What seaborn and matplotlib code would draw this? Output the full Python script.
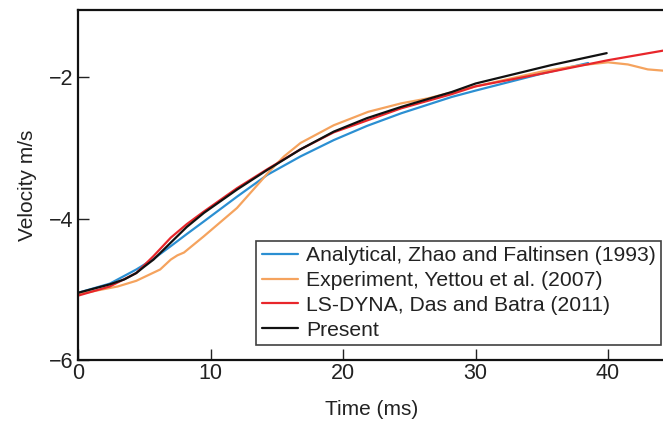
import matplotlib
matplotlib.use("Agg")
import matplotlib.pyplot as plt
import seaborn as sns
import pandas as pd

# ---- data ----
t_analytical = [0, 2.4, 4.4, 5.7, 7, 8.2, 9.5, 12, 14.3, 16.8, 19.3, 21.8, 24.4, 28.2, 30, 35, 38.5]
v_analytical = [-5.05, -4.92, -4.72, -4.57, -4.39, -4.22, -4.04, -3.69, -3.38, -3.12, -2.89, -2.69, -2.51, -2.28, -2.19, -1.95, -1.80]

t_experiment = [0, 1.9, 3, 4.4, 6.2, 7, 7.5, 8, 9.5, 12, 13.8, 14.3, 15.55, 16.8, 19.3, 21.9, 24.4, 26.4,
                30, 35, 38, 40, 41.5, 43, 44.3]
v_experiment = [-5.07, -5.00, -4.96, -4.88, -4.72, -4.58, -4.52, -4.48, -4.25, -3.85, -3.47, -3.36, -3.12, -2.93,
                -2.68, -2.49, -2.37, -2.30, -2.13, -1.92, -1.83, -1.79, -1.82, -1.89, -1.91]

t_lsdyna = [0, 2.4, 4.4, 5.7, 7, 8.2, 9.5, 12, 14.3, 16.8, 19.3, 24.4, 28.2, 30, 35, 40, 44.3]
v_lsdyna = [-5.09, -4.96, -4.77, -4.53, -4.27, -4.08, -3.90, -3.57, -3.30, -3.02, -2.78, -2.44, -2.24, -2.13, -1.95, -1.76, -1.62]

t_present = [0, 2.4, 3.5, 4.4, 5.0, 5.7, 7, 8.2, 9.5, 12, 14.3, 16.8, 19.3, 21.8, 24.4, 28.2, 30, 35.7, 39.9]
v_present = [-5.05, -4.93, -4.86, -4.77, -4.68, -4.58, -4.34, -4.12, -3.92, -3.59, -3.31, -3.02, -2.77, -2.58, -2.42, -2.21, -2.09, -1.83, -1.66]

labels = ["Analytical, Zhao and Faltinsen (1993)",
          "Experiment, Yettou et al. (2007)",
          "LS-DYNA, Das and Batra (2011)",
          "Present"]
colors = ["#2b8fd2", "#f5a35e", "#e8262b", "#111111"]

sns.set_style("ticks")
plt.rcParams['font.family'] = ["Liberation Sans", 'DejaVu Sans']

fig = plt.figure(figsize=(6.63, 4.22), dpi=100)
ax = fig.add_axes([78/663, 1 - 360/422, 1 - 78/663 + 0.003, 350/422])

series = [(t_analytical, v_analytical), (t_experiment, v_experiment),
          (t_lsdyna, v_lsdyna), (t_present, v_present)]
for (t, v), lab, c in zip(series, labels, colors):
    df = pd.DataFrame({"t": t, "v": v})
    sns.lineplot(data=df, x="t", y="v", ax=ax, color=c, label=lab, lw=1.6, sort=False)

ax.set_xlim(0, 44.3)
ax.set_ylim(-6, -1.05)
ax.set_xticks([0, 10, 20, 30, 40])
ax.set_yticks([-6, -4, -2])
ax.set_yticklabels(["\u22126", "\u22124", "\u22122"])
ax.tick_params(axis="x", direction="in", length=8, width=1, labelsize=15.5, pad=2, colors="#222222")
ax.tick_params(axis="y", direction="in", length=8, width=1, labelsize=15.5, pad=3, colors="#222222")
for s in ax.spines.values():
    s.set_linewidth(1.6)
    s.set_color("#111111")
ax.set_xlabel("Time (ms)", fontsize=15, labelpad=12, color="#222222")
ax.set_ylabel("Velocity m/s", fontsize=15, labelpad=9, color="#222222")

leg = ax.legend(loc="lower right", bbox_to_anchor=(661/663, 1 - 345/422),
                bbox_transform=fig.transFigure, borderaxespad=0,
                fontsize=15.2, frameon=True, fancybox=False,
                edgecolor="#111111", handlelength=1.7, handletextpad=0.4,
                borderpad=0.25, labelspacing=0.28)
leg.get_frame().set_linewidth(1.2)
for txt in leg.get_texts():
    txt.set_color("#222222")

fig.savefig("out.png", dpi=100)
